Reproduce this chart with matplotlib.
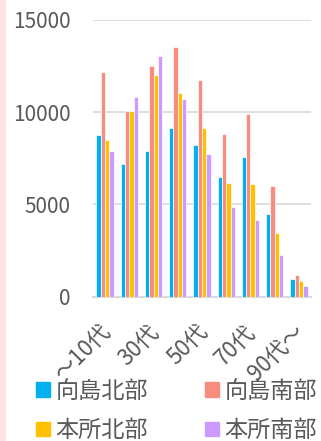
import numpy as np
import matplotlib
matplotlib.use("Agg")
import matplotlib.pyplot as plt
from matplotlib.patches import Rectangle
from matplotlib.transforms import ScaledTranslation

plt.rcParams["font.family"] = ["Noto Sans CJK JP", "DejaVu Sans"]

ages = ["～10代", "20代", "30代", "40代", "50代", "60代", "70代", "80代", "90代～"]
tick_labels = ["～10代", "", "30代", "", "50代", "", "70代", "", "90代～"]
areas = ["向島北部", "向島南部", "本所北部", "本所南部"]
mukoujima_n = [8740, 7190, 7910, 9120, 8220, 6480, 7580, 4500, 970]
mukoujima_s = [12180, 10080, 12530, 13540, 11730, 8800, 9920, 6000, 1190]
honjo_n = [8500, 10080, 12040, 11040, 9140, 6150, 6110, 3450, 840]
honjo_s = [7870, 10840, 13020, 10730, 7750, 4880, 4140, 2270, 550]
colors = ["#00B0F0", "#F88C7E", "#FFC000", "#CC99FF"]

series = [mukoujima_n, mukoujima_s, honjo_n, honjo_s]

fig = plt.figure(figsize=(3.21, 4.41), dpi=100)
fig.patches.append(Rectangle((0, 0), 5 / 321, 1, transform=fig.transFigure,
                             color="#FDE3E3", zorder=0))

ax = fig.add_axes([93 / 321, 144.5 / 441, 218 / 321, 276.5 / 441])
x = np.arange(len(ages))
w = 0.18
for i, (vals, c) in enumerate(zip(series, colors)):
    ax.bar(x + (i - 1.5) * w, vals, width=w, color=c, edgecolor="white",
           linewidth=0.5, label=areas[i], zorder=3)

ax.set_xlim(-0.5, len(ages) - 0.5)
ax.set_ylim(0, 15000)
ax.set_yticks([0, 5000, 10000, 15000])
ax.yaxis.grid(True, color="#D9D9D9", linewidth=1.2, zorder=0)
ax.set_axisbelow(True)
for s in ["top", "right", "left"]:
    ax.spines[s].set_visible(False)
ax.spines["bottom"].set_color("#D9D9D9")
ax.spines["bottom"].set_linewidth(1.5)
ax.tick_params(axis="y", length=0, pad=16, labelsize=15, labelcolor="#595959")
ax.tick_params(axis="x", length=0, pad=17, labelsize=16, labelcolor="#595959")
ax.set_xticks(x)
ax.set_xticklabels(tick_labels, rotation=45, ha="right", va="top",
                   rotation_mode="anchor")
# nudge the rotated labels a little to the left
shift = ScaledTranslation(-0.06, 0, fig.dpi_scale_trans)
for lbl in ax.get_xticklabels():
    lbl.set_transform(lbl.get_transform() + shift)

# two rows: 向島 on top, 本所 below (legend fills column-first)
order = [0, 2, 1, 3]
handles = [Rectangle((0, 0), 1, 1, color=colors[i]) for i in order]
fig.legend(handles, [areas[i] for i in order], loc="upper left",
           bbox_to_anchor=(36 / 321, 1 - 380 / 441),
           ncol=2, frameon=False, fontsize=16.7, handlelength=0.6,
           handleheight=0.6, handletextpad=0.25, columnspacing=2.45,
           labelspacing=0.7, labelcolor="#595959", borderaxespad=0,
           borderpad=0)

fig.savefig("out.png", dpi=100)
